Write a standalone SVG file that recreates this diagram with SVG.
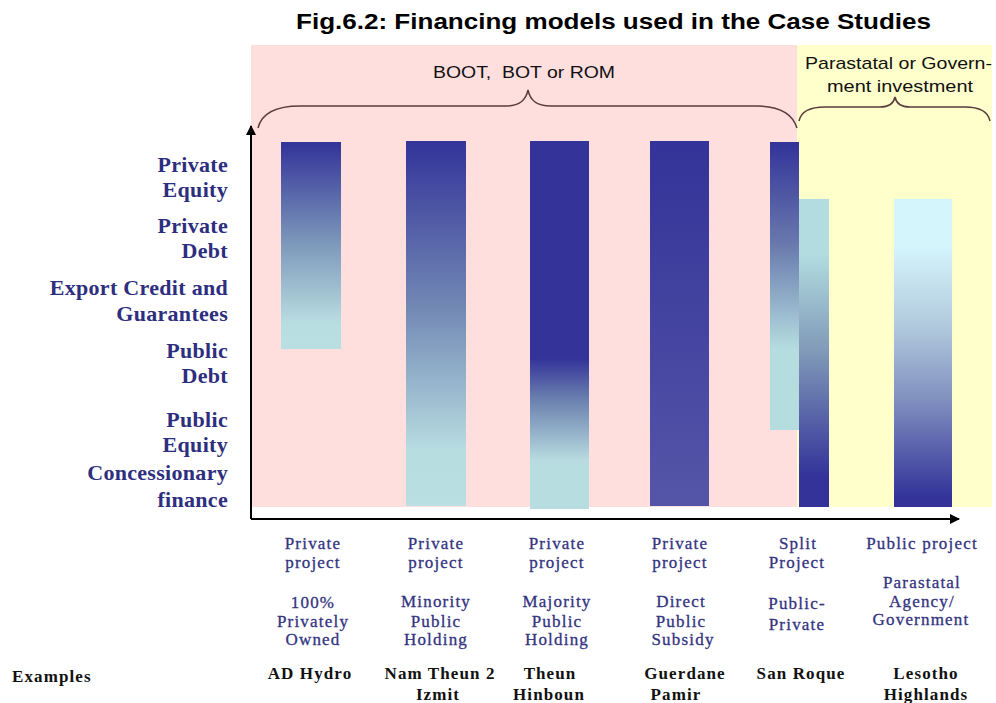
<svg xmlns="http://www.w3.org/2000/svg" width="996" height="703" viewBox="0 0 996 703">
<style>
.title{font-family:"Liberation Sans",Arial,sans-serif;font-weight:bold;font-size:22px;fill:#000}
.hdr{font-family:"Liberation Sans",Arial,sans-serif;font-size:17px;fill:#111}
.ax{font-family:"Liberation Serif","Times New Roman",serif;font-weight:bold;font-size:22px;fill:#2e2e7e;text-anchor:end;letter-spacing:0.3px}
.cat{font-family:"Liberation Serif","Times New Roman",serif;font-size:17px;fill:#33337f;stroke:#33337f;stroke-width:0.3;text-anchor:middle;letter-spacing:1.2px}
.ex{font-family:"Liberation Serif","Times New Roman",serif;font-weight:bold;font-size:17px;fill:#111;text-anchor:middle;letter-spacing:1.1px}
.axis{stroke:#000;stroke-width:2;fill:none}
.brace{stroke:#5a3d3d;stroke-width:1.5;fill:none}
</style>
<defs>
<marker id="arr" viewBox="0 0 10 10" refX="9" refY="5" markerWidth="5" markerHeight="5" orient="auto" markerUnits="strokeWidth">
<path d="M0,0 L10,5 L0,10 z" fill="#000"/>
</marker>
<linearGradient id="g1" x1="0" y1="0" x2="0" y2="1">
<stop offset="0" stop-color="#333399"/><stop offset="0.5" stop-color="#7e9abb"/><stop offset="0.88" stop-color="#b9dee1"/><stop offset="1" stop-color="#badfe2"/>
</linearGradient>
<linearGradient id="g2" x1="0" y1="0" x2="0" y2="1">
<stop offset="0" stop-color="#333399"/><stop offset="0.45" stop-color="#7187b4"/><stop offset="0.85" stop-color="#b8dde1"/><stop offset="1" stop-color="#badfe2"/>
</linearGradient>
<linearGradient id="g3" x1="0" y1="0" x2="0" y2="1">
<stop offset="0" stop-color="#333399"/><stop offset="0.59" stop-color="#333399"/><stop offset="0.7" stop-color="#6a7fae"/><stop offset="0.87" stop-color="#b8dde0"/><stop offset="1" stop-color="#b8dde0"/>
</linearGradient>
<linearGradient id="g4" x1="0" y1="0" x2="0" y2="1">
<stop offset="0" stop-color="#333399"/><stop offset="1" stop-color="#5555a8"/>
</linearGradient>
<linearGradient id="g5a" x1="0" y1="0" x2="0" y2="1">
<stop offset="0" stop-color="#333399"/><stop offset="0.35" stop-color="#6878ad"/><stop offset="0.72" stop-color="#b5dde0"/><stop offset="1" stop-color="#b5dde0"/>
</linearGradient>
<linearGradient id="g5b" x1="0" y1="0" x2="0" y2="1">
<stop offset="0" stop-color="#b2dce0"/><stop offset="0.18" stop-color="#b2dce0"/><stop offset="0.5" stop-color="#7f98b8"/><stop offset="0.9" stop-color="#333399"/><stop offset="1" stop-color="#333399"/>
</linearGradient>
<linearGradient id="g6" x1="0" y1="0" x2="0" y2="1">
<stop offset="0" stop-color="#d5f5fc"/><stop offset="0.15" stop-color="#d5f5fc"/><stop offset="0.42" stop-color="#b0c8dc"/><stop offset="0.65" stop-color="#8090bf"/><stop offset="0.97" stop-color="#333399"/><stop offset="1" stop-color="#333399"/>
</linearGradient>
</defs>
<rect width="996" height="703" fill="#fff"/>
<rect x="251" y="45" width="546" height="462" fill="#ffdede"/>
<rect x="797" y="45" width="195" height="462" fill="#ffffcc"/>
<text class="title" x="296" y="29" textLength="635" lengthAdjust="spacingAndGlyphs">Fig.6.2: Financing models used in the Case Studies</text>

<g id="group-boot">
<text class="hdr" x="433" y="78" textLength="182" lengthAdjust="spacingAndGlyphs" xml:space="preserve">BOOT,  BOT or ROM</text>
</g>
<g id="group-parastatal">
<text class="hdr" x="805" y="69" textLength="187" lengthAdjust="spacingAndGlyphs">Parastatal or Govern-</text>
<text class="hdr" x="827" y="92" textLength="146" lengthAdjust="spacingAndGlyphs">ment investment</text>
</g>

<g id="axis-labels">
<text class="ax" x="228" y="172">Private</text>
<text class="ax" x="228" y="197">Equity</text>
<text class="ax" x="228" y="233">Private</text>
<text class="ax" x="228" y="258">Debt</text>
<text class="ax" x="228" y="295">Export Credit and</text>
<text class="ax" x="228" y="321">Guarantees</text>
<text class="ax" x="228" y="358">Public</text>
<text class="ax" x="228" y="383">Debt</text>
<text class="ax" x="228" y="427">Public</text>
<text class="ax" x="228" y="452">Equity</text>
<text class="ax" x="228" y="480">Concessionary</text>
<text class="ax" x="228" y="507">finance</text>
</g>

<g id="col-1">
<rect x="281" y="142" width="60" height="207" fill="url(#g1)"/>
<text class="cat" x="313" y="549">Private</text>
<text class="cat" x="313" y="568">project</text>
<text class="cat" x="313" y="608">100%</text>
<text class="cat" x="313" y="627">Privately</text>
<text class="cat" x="313" y="645">Owned</text>
<text class="ex" x="310" y="679">AD Hydro</text>
</g>
<g id="col-2">
<rect x="406" y="141" width="60" height="365" fill="url(#g2)"/>
<text class="cat" x="436" y="549">Private</text>
<text class="cat" x="436" y="568">project</text>
<text class="cat" x="436" y="607">Minority</text>
<text class="cat" x="436" y="627">Public</text>
<text class="cat" x="436" y="645">Holding</text>
<text class="ex" x="440" y="679">Nam Theun 2</text>
<text class="ex" x="438" y="700">Izmit</text>
</g>
<g id="col-3">
<rect x="530" y="141" width="59" height="368" fill="url(#g3)"/>
<text class="cat" x="557" y="549">Private</text>
<text class="cat" x="557" y="568">project</text>
<text class="cat" x="557" y="607">Majority</text>
<text class="cat" x="557" y="627">Public</text>
<text class="cat" x="557" y="645">Holding</text>
<text class="ex" x="550" y="679">Theun</text>
<text class="ex" x="549" y="700">Hinboun</text>
</g>
<g id="col-4">
<rect x="650" y="141" width="59" height="365" fill="url(#g4)"/>
<text class="cat" x="680" y="549">Private</text>
<text class="cat" x="680" y="568">project</text>
<text class="cat" x="681" y="607">Direct</text>
<text class="cat" x="681" y="627">Public</text>
<text class="cat" x="683" y="645">Subsidy</text>
<text class="ex" x="685" y="679">Guerdane</text>
<text class="ex" x="676" y="700">Pamir</text>
</g>
<g id="col-5">
<rect x="770" y="142" width="29" height="288" fill="url(#g5a)"/>
<rect x="799" y="199" width="30" height="308" fill="url(#g5b)"/>
<text class="cat" x="798" y="549">Split</text>
<text class="cat" x="797" y="568">Project</text>
<text class="cat" x="797" y="609">Public-</text>
<text class="cat" x="797" y="630">Private</text>
<text class="ex" x="801" y="679">San Roque</text>
</g>
<g id="col-6">
<rect x="894" y="199" width="58" height="308" fill="url(#g6)"/>
<text class="cat" x="922" y="549">Public project</text>
<text class="cat" x="922" y="588">Parastatal</text>
<text class="cat" x="922" y="607">Agency/</text>
<text class="cat" x="921" y="625">Government</text>
<text class="ex" x="926" y="679">Lesotho</text>
<text class="ex" x="926" y="700">Highlands</text>
</g>
<g id="examples-label">
<text class="ex" x="12" y="682" style="text-anchor:start">Examples</text>
</g>

<g id="connectors">
<path class="axis" d="M251,519 L251,126" marker-end="url(#arr)"/>
<path class="axis" d="M251,519 L959,519" marker-end="url(#arr)"/>
<path class="brace" d="M258,128 C262,112 278,106 300,106 L505,106 C520,106 526,100 528,90 C530,100 536,106 551,106 L757,106 C777,106 792,112 797,128"/>
<path class="brace" d="M799,121 C801,111 810,107 825,107 L880,107 C890,107 894,102 895,97 C896,102 900,107 910,107 L965,107 C980,107 988,111 990,121"/>
</g>
</svg>
